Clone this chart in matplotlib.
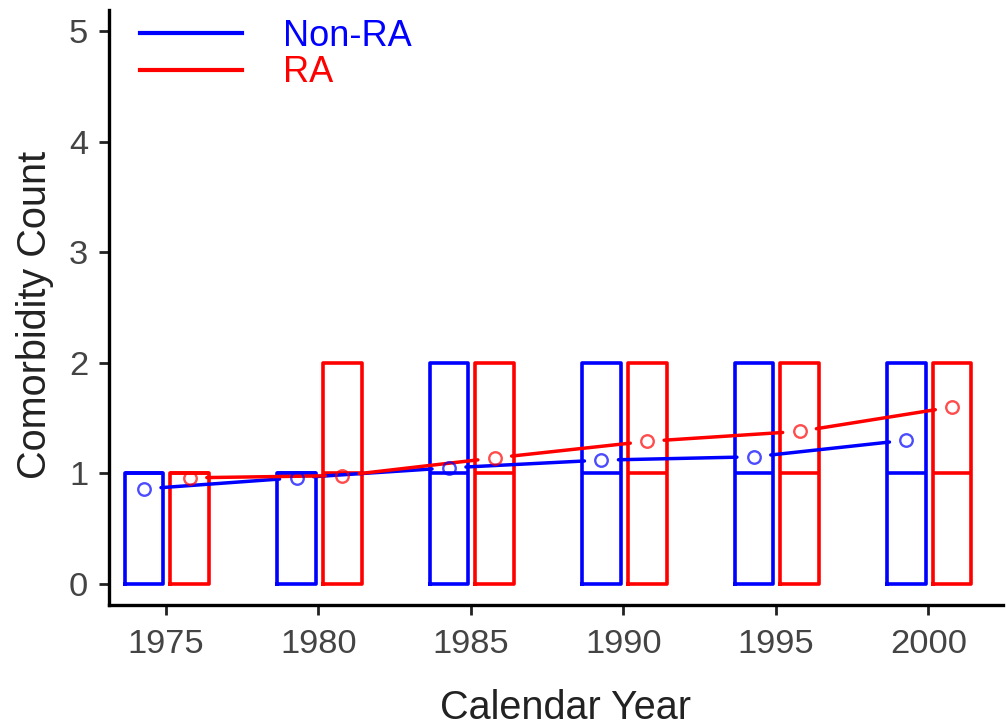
import numpy as np
import matplotlib
matplotlib.use("Agg")
import matplotlib.pyplot as plt
from matplotlib.lines import Line2D

plt.rcParams['font.family'] = ['Liberation Sans', 'DejaVu Sans']

years = [1975, 1980, 1985, 1990, 1995, 2000]
groups = ['Non-RA', 'RA']
colors = {'Non-RA': '#0000ff', 'RA': '#ff0000'}
offsets = {'Non-RA': -0.72, 'RA': 0.78}

q1 = {'Non-RA': [0, 0, 0, 0, 0, 0], 'RA': [0, 0, 0, 0, 0, 0]}
median = {'Non-RA': [1, 1, 1, 1, 1, 1], 'RA': [1, 1, 1, 1, 1, 1]}
q3 = {'Non-RA': [1, 1, 2, 2, 2, 2], 'RA': [1, 2, 2, 2, 2, 2]}
means = {'Non-RA': [0.86, 0.96, 1.05, 1.12, 1.15, 1.30],
         'RA': [0.96, 0.98, 1.14, 1.29, 1.38, 1.60]}

fig = plt.figure(figsize=(10.06, 7.26), dpi=100)
ax = fig.add_axes([109 / 1006, 1 - 605 / 726, (1003 - 109) / 1006, (605 - 10) / 726])
ax.set_xlim(1973.13, 2002.45)
ax.set_ylim(-0.19, 5.19)

# boxes
for g in groups:
    stats = []
    for i in range(len(years)):
        stats.append({'q1': q1[g][i], 'q3': q3[g][i], 'med': median[g][i],
                      'whislo': q1[g][i], 'whishi': q3[g][i], 'fliers': []})
    pos = [y + offsets[g] for y in years]
    lw = 2.6
    ax.bxp(stats, positions=pos, widths=1.27, showcaps=False, showfliers=False,
           manage_ticks=False,
           boxprops=dict(color=colors[g], linewidth=lw, solid_joinstyle='round'),
           medianprops=dict(color=colors[g], linewidth=lw),
           whiskerprops=dict(color=colors[g], linewidth=lw))

# mean lines with gaps around the points
gap = 17
for g in groups:
    xs = np.array([y + offsets[g] for y in years], dtype=float)
    ys = np.array(means[g], dtype=float)
    disp = ax.transData.transform(np.column_stack([xs, ys]))
    inv = ax.transData.inverted()
    for i in range(len(xs) - 1):
        p0, p1 = disp[i], disp[i + 1]
        d = p1 - p0
        u = d / np.hypot(*d)
        a = inv.transform(p0 + u * gap)
        b = inv.transform(p1 - u * gap)
        ax.plot([a[0], b[0]], [a[1], b[1]], color=colors[g], lw=2.5,
                solid_capstyle='round', zorder=3)
    ax.plot(xs, ys, 'o', ms=9, mfc='none', mec=colors[g], mew=1.7,
            alpha=0.7, zorder=4)

for s in ['top', 'right']:
    ax.spines[s].set_visible(False)
for s in ['left', 'bottom']:
    ax.spines[s].set_linewidth(2.4)
    ax.spines[s].set_color('black')

ax.set_xticks(years)
ax.set_xticklabels([str(y) for y in years])
ax.set_yticks([0, 1, 2, 3, 4, 5])
ax.tick_params(axis='both', length=7, width=2, labelsize=24.8,
               labelcolor='#444444', color='#222222')
ax.tick_params(axis='x', pad=10)
ax.tick_params(axis='y', pad=8)

ax.set_xlabel('Calendar Year', fontsize=28.5, color='#222222')
ax.set_ylabel('Comorbidity Count', fontsize=28.5, color='#222222')
ax.xaxis.set_label_coords((565 - 109) / 894, (605 - 708) / 595)
ax.yaxis.set_label_coords((35 - 109) / 894, (605 - 315) / 595)
ax.xaxis.label.set_verticalalignment('center')
ax.yaxis.label.set_verticalalignment('center')

handles = [Line2D([], [], color=colors[g], lw=3) for g in groups]
leg = ax.legend(handles, groups, loc='upper left', frameon=False,
                bbox_to_anchor=(140 / 1006, 1 - 19 / 726), bbox_transform=fig.transFigure,
                fontsize=26, handlelength=2.83, handletextpad=1.14,
                labelspacing=0.04, borderpad=0.0, borderaxespad=0.0,
                labelcolor=[colors[g] for g in groups])

fig.savefig('out.png', dpi=100)
